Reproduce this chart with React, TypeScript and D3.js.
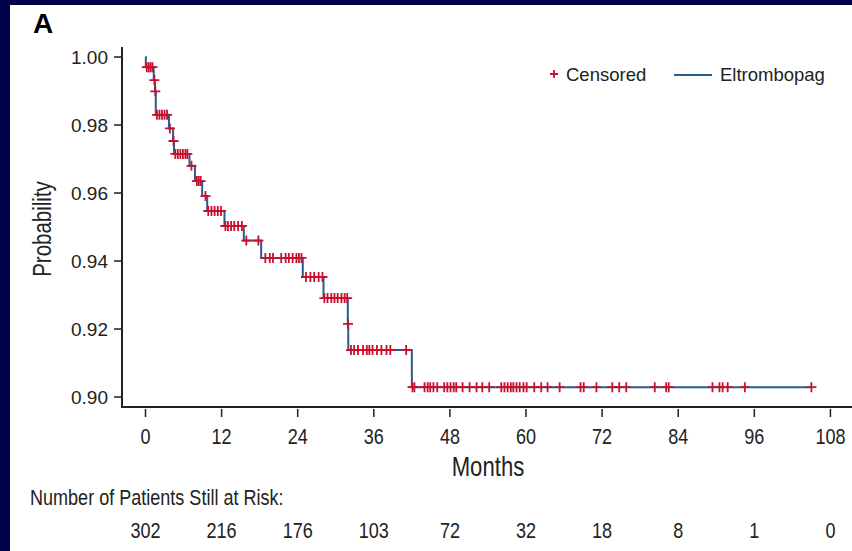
import React from 'react';
import * as d3 from 'd3';

// Kaplan-Meier curve, eltrombopag arm
const eventTimes = [0.05, 1.3, 1.5, 1.62, 3.7, 4.35, 4.5, 6.94, 7.8, 8.94, 9.73, 12.45, 15.5, 18.24, 24.8, 28.07, 31.9, 31.97, 42.0]
const survival = [0.9970, 0.9932, 0.9899, 0.9830, 0.9790, 0.9753, 0.9715, 0.9680, 0.9635, 0.9591, 0.9547, 0.9503, 0.9460, 0.9409, 0.9353, 0.9291, 0.9215, 0.9138, 0.9029]

const censorTimes = [
  0.2, 0.5, 0.8, 1.1, 1.4, 1.55,
  1.8, 2.2, 2.6, 3.0, 3.4, 3.85, 4.42,
  4.7, 5.1, 5.5, 5.9, 6.3, 6.6, 7.25,
  8.1, 8.4, 8.7, 9.46,
  9.9, 10.4, 10.9, 11.4, 11.9,
  12.6, 13.0, 13.5, 14.0, 14.6, 15.2,
  15.9, 17.8,
  18.9, 19.6, 20.1, 21.4, 22.1, 22.6, 23.2, 23.8, 24.2, 24.6,
  25.3, 26.0, 26.6, 27.3, 27.9,
  28.2, 28.7, 29.3, 29.8, 30.3, 30.9, 31.4, 31.8, 31.93,
  32.4, 32.9, 33.5, 34.3, 34.9, 35.3, 35.8, 36.5, 37.2, 38.0, 38.6, 41.1,
  42.1, 42.4, 44.0, 44.5, 44.9, 45.4, 46.0, 47.1, 47.6, 48.1, 48.6, 49.0,
  50.0, 51.1, 52.2, 53.1, 54.2, 56.1, 56.6, 57.1, 57.6, 58.0, 58.5, 59.0,
  59.6, 60.1, 61.3, 62.4, 63.4, 65.3, 68.6, 69.1, 71.1, 73.6, 74.7, 75.8,
  80.3, 82.1, 82.5, 89.4, 90.5, 91.0, 91.8, 94.5, 105.0
]

const monthTicks = [0, 12, 24, 36, 48, 60, 72, 84, 96, 108]
const probTicks = [0.90, 0.92, 0.94, 0.96, 0.98, 1.00]
const riskCounts = [302, 216, 176, 103, 72, 32, 18, 8, 1, 0]

const W = 852
const H = 551
const SANS = "'Liberation Sans', Arial, Helvetica, sans-serif"
const RED = '#c8102e'
const BLUE = '#2a5d8f'
const AXIS = '#222'
const TXT = '#222'

// condensed text: Liberation Sans squeezed horizontally (Arial Narrow look)
function Narrow(props: { x: number, y: number, size: number, anchor?: string, rotate?: number, children: any }) {
  const { x, y, size, anchor = 'start', rotate = 0 } = props
  return (
    <g transform={`translate(${x},${y}) rotate(${rotate}) scale(0.82,1)`}>
      <text textAnchor={anchor} fontFamily={SANS} fontSize={size} fill={TXT}>{props.children}</text>
    </g>
  )
}

export default function App() {
  const x = d3.scaleLinear().domain([-3.705, 111.4]).range([122, 852])
  const y = d3.scaleLinear().domain([0.89706, 1.00294]).range([407, 47])

  const surv = (t: number) => {
    const i = d3.bisectRight(eventTimes, t)
    return i === 0 ? 1 : survival[i - 1]
  }

  const lastT = d3.max(censorTimes) as number
  const pts: [number, number][] = [[0, 1], ...eventTimes.map((t, i) => [t, survival[i]] as [number, number]), [lastT, survival[survival.length - 1]]]
  const line = d3.line<[number, number]>()
    .x(d => x(d[0]))
    .y(d => y(d[1]))
    .curve(d3.curveStepAfter)

  const plus = (cx: number, cy: number, r: number, key?: any) => (
    <path key={key} d={`M${cx - r},${cy}H${cx + r}M${cx},${cy - r}V${cy + r}`} stroke={RED} strokeWidth={1.8} fill="none" />
  )

  return (
    <svg width={W} height={H} style={{ position: 'absolute', left: 0, top: 0 }}>
      <rect x={0} y={0} width={W} height={H} fill="#02024a" />
      <rect x={10} y={5} width={W - 10} height={H - 5} fill="#fff" />

      <text x={33} y={33} fontFamily={SANS} fontWeight="bold" fontSize={28} fill="#000">A</text>

      {/* y axis */}
      <line x1={122} x2={122} y1={47} y2={408} stroke={AXIS} strokeWidth={2} />
      {probTicks.map(p => (
        <g key={p} transform={`translate(0,${y(p)})`}>
          <line x1={114} x2={122} stroke={AXIS} strokeWidth={1.5} />
          <text x={108} dy="0.36em" textAnchor="end" fontFamily={SANS} fontSize={19} fill={TXT}>{p.toFixed(2)}</text>
        </g>
      ))}
      <Narrow x={51} y={229} size={25} anchor="middle" rotate={-90}>Probability</Narrow>

      {/* x axis */}
      <line x1={121} x2={852} y1={407} y2={407} stroke={AXIS} strokeWidth={2} />
      {monthTicks.map(m => (
        <g key={m}>
          <line x1={x(m)} x2={x(m)} y1={409} y2={417} stroke={AXIS} strokeWidth={1.5} />
          <Narrow x={x(m)} y={444} size={22} anchor="middle">{m}</Narrow>
        </g>
      ))}
      <Narrow x={x(54)} y={476} size={27} anchor="middle">Months</Narrow>

      {/* curve */}
      <path d={line(pts) as string} fill="none" stroke={BLUE} strokeWidth={2} />
      {censorTimes.map((t, i) => plus(x(t), y(surv(t)), 5, i))}

      {/* legend */}
      {plus(554, 74, 4)}
      <text x={566} y={81} fontFamily={SANS} fontSize={18.5} fill={TXT}>Censored</text>
      <line x1={674} x2={712} y1={75} y2={75} stroke={BLUE} strokeWidth={2} />
      <text x={720} y={81} fontFamily={SANS} fontSize={18.5} fill={TXT}>Eltrombopag</text>

      {/* risk table */}
      <Narrow x={30} y={505} size={22}>Number of Patients Still at Risk:</Narrow>
      {riskCounts.map((n, i) => (
        <Narrow key={i} x={x(monthTicks[i])} y={538} size={22} anchor="middle">{n}</Narrow>
      ))}
    </svg>
  )
}
